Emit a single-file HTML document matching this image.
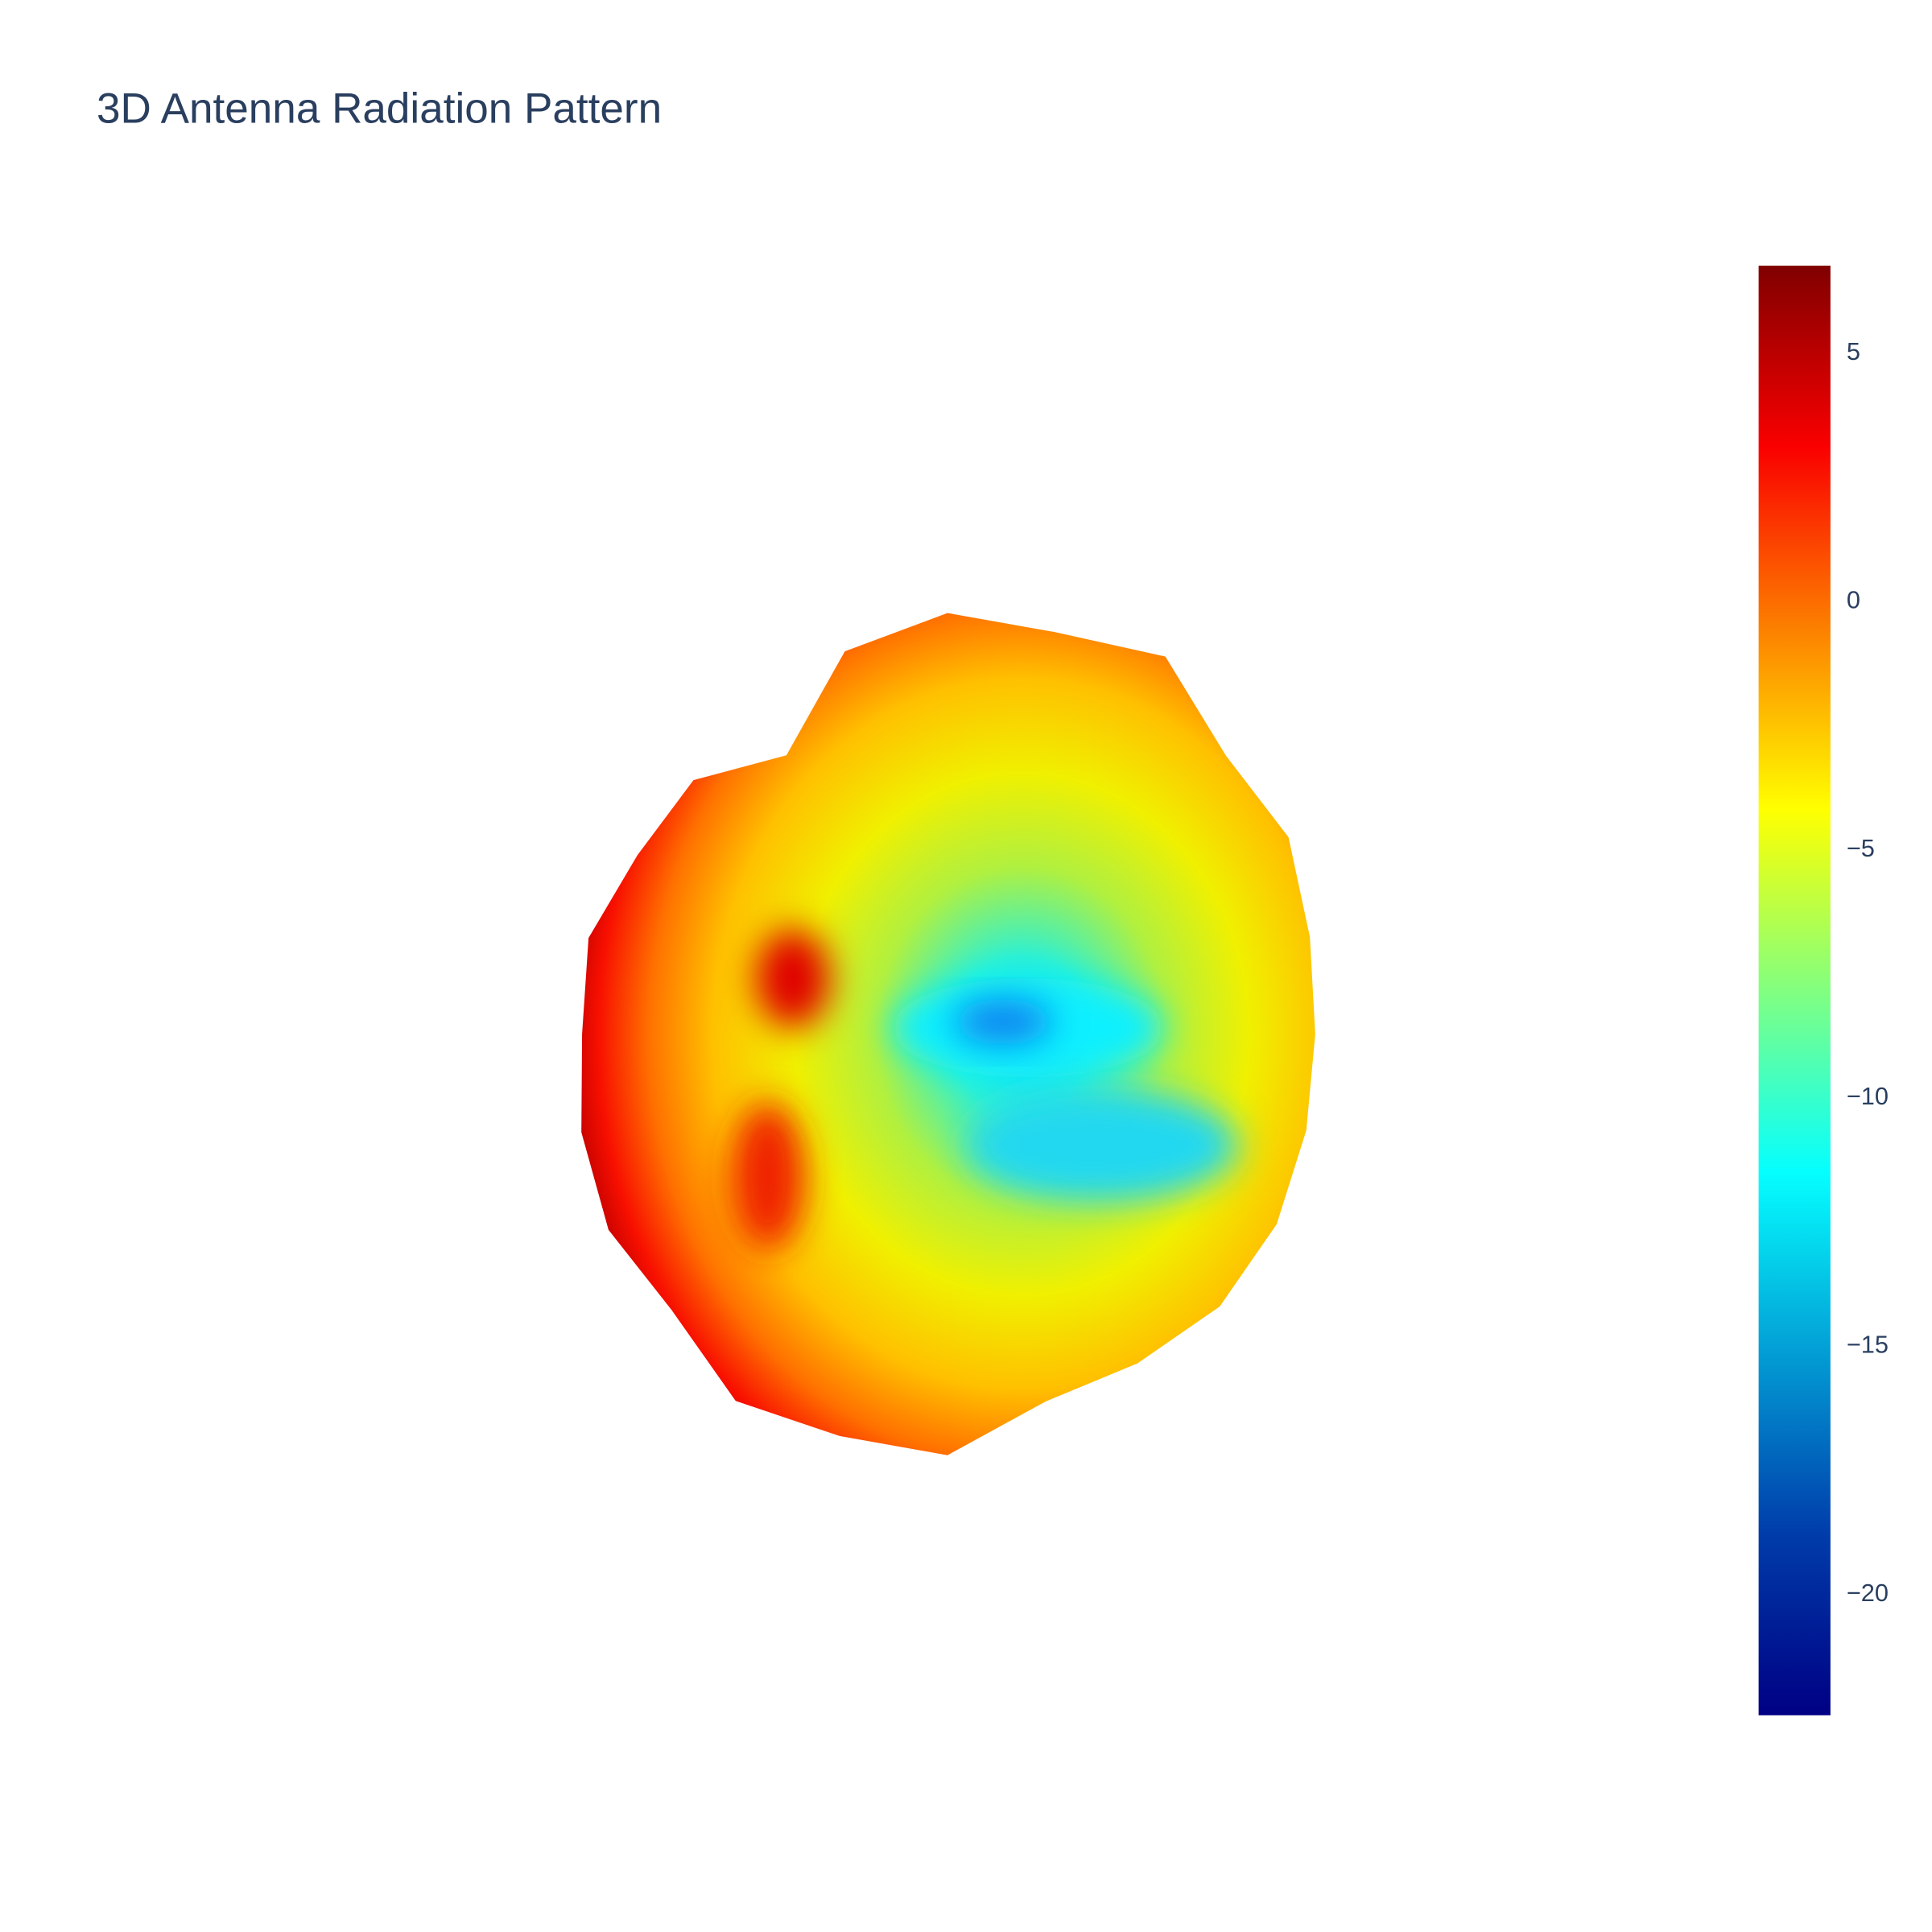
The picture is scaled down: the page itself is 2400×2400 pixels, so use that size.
<!DOCTYPE html>
<html><head><meta charset="utf-8"><style>
html,body{margin:0;padding:0;background:#fff;}
svg{display:block;}
text{font-family:"Liberation Sans","DejaVu Sans",sans-serif;fill:#2a3f5f;}
</style></head><body>
<svg id="chart" width="2400" height="2400" viewBox="0 0 1560 1560" xmlns="http://www.w3.org/2000/svg">
<defs>
<radialGradient id="surfGrad" cx="0.6" cy="0.5" r="0.62">
<stop offset="0" stop-color="#10d8ff"/>
<stop offset="0.15" stop-color="#30f0d0"/>
<stop offset="0.32" stop-color="#b0f040"/>
<stop offset="0.5" stop-color="#f0f000"/>
<stop offset="0.68" stop-color="#ffc000"/>
<stop offset="0.82" stop-color="#ff7000"/>
<stop offset="0.93" stop-color="#f81000"/>
<stop offset="1" stop-color="#c00000"/>
</radialGradient>
<linearGradient id="jet" x1="0" y1="1" x2="0" y2="0">
<stop offset="0" stop-color="#000083"/>
<stop offset="0.125" stop-color="#003caa"/>
<stop offset="0.375" stop-color="#05ffff"/>
<stop offset="0.625" stop-color="#ffff00"/>
<stop offset="0.875" stop-color="#fa0000"/>
<stop offset="1" stop-color="#800000"/>
</linearGradient>
<filter id="blur" x="-50%" y="-50%" width="200%" height="200%"><feGaussianBlur stdDeviation="14"/></filter>
</defs>
<text x="78" y="99" font-size="34.5">3D Antenna Radiation Pattern</text>
<g id="surface"></g>
<rect x="1420" y="214.5" width="58" height="1170.5" fill="url(#jet)"/>
<g id="cbticks"></g>
</svg>
<script>
const angles = [0,15,30,45,60,75,90,105,120,135,150,165,180,195,210,225,240,255,270,285,300,315,330,345];
const radii = [297,303,318,318,352,336,340,320,260,290,289,300,295,306,316,315,342,336,340,307,307,311,307,300];
const tickValues = [5,0,-5,-10,-15,-20];
const tickLabels = ["5","0","\u22125","\u221210","\u221215","\u221220"];
const cbMin = -22.4, cbMax = 6.8;
const NS = "http://www.w3.org/2000/svg";
const cx = 765, cy = 835;
function polar(a, r){ const t = a*Math.PI/180; return [cx + r*Math.cos(t), cy - r*Math.sin(t)]; }
function cbY(v){ return 214.5 + (cbMax - v)/(cbMax - cbMin)*1170.5; }
const surf = document.getElementById('surface');
const pts = angles.map((a,i)=>polar(a, radii[i]).join(',')).join(' ');
const outer = document.createElementNS(NS,'polygon');


outer.setAttribute('points', pts);
outer.setAttribute('fill', 'url(#surfGrad)');
surf.appendChild(outer);
const spots = [[830,830,110,40,'#10f0ff'],[890,925,110,45,'#20d8f0'],[810,825,40,18,'#1080f0'],[640,790,30,40,'#e00000'],[620,950,30,60,'#f02000']];
spots.forEach(s=>{
  const e = document.createElementNS(NS,'ellipse');
  
  
  e.setAttribute('cx', s[0]); e.setAttribute('cy', s[1]);
  e.setAttribute('rx', s[2]); e.setAttribute('ry', s[3]);
  e.setAttribute('fill', s[4]); e.setAttribute('filter','url(#blur)');
  surf.appendChild(e);
});
const cbt = document.getElementById('cbticks');
tickValues.forEach((v,i)=>{
  const t = document.createElementNS(NS,'text');
  
  
  t.setAttribute('x', 1491); t.setAttribute('y', cbY(v)+4);
  t.setAttribute('font-size', '20');
  t.textContent = tickLabels[i];
  cbt.appendChild(t);
});
</script>
</body></html>
